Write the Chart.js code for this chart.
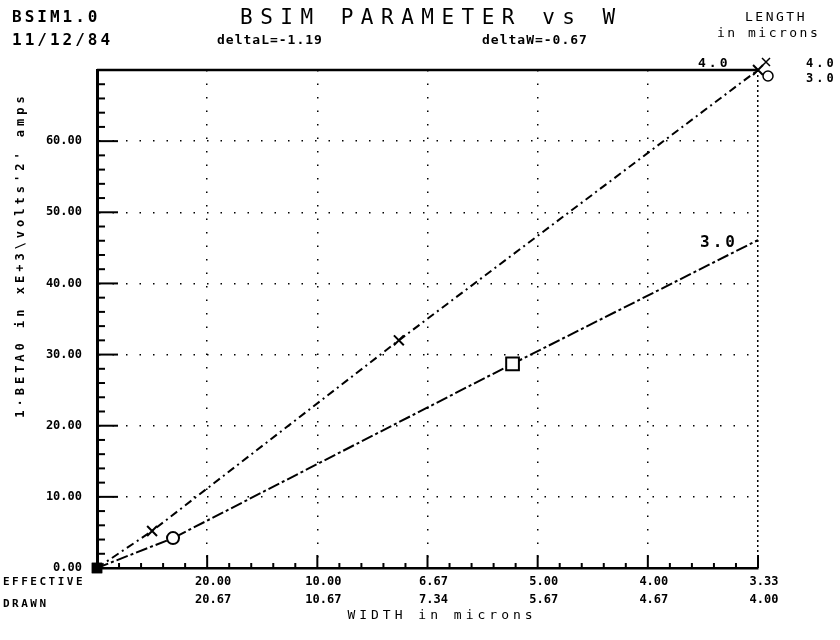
<!DOCTYPE html>
<html lang="en">
<head>
  <meta charset="UTF-8">
  <title>BSIM PARAMETER vs W</title>
  <script src="https://cdn.jsdelivr.net/npm/chart.js"></script>
  <style>
    body { margin: 0; background: #fff; }
    #wrap { width: 840px; height: 640px; }
  </style>
</head>
<body>
  <div id="wrap"><canvas id="beta" width="840" height="640"></canvas></div>

  <script>
    // x axis is 1/W (effective), labels show effective and drawn width
    const tickInvW = [0.05, 0.10, 0.15, 0.20, 0.25, 0.30];
    const effLabels = ['20.00', '10.00', '6.67', '5.00', '4.00', '3.33'];
    const drawnLabels = ['20.67', '10.67', '7.34', '5.67', '4.67', '4.00'];
    const yLabels = ['0.00', '10.00', '20.00', '30.00', '40.00', '50.00', '60.00'];

    // L = 4.0 um
    const invW40 = [0, 0.025, 0.137, 0.30];
    const beta40 = [0, 5.2, 32.0, 70.0];
    // L = 3.0 um
    const invW30 = [0, 0.0345, 0.1886, 0.30];
    const beta30 = [0, 4.2, 28.7, 46.1];

    const MONO = '"DejaVu Sans Mono", monospace';

    function toPoints(xs, ys) {
      return xs.map((x, i) => ({ x: x, y: ys[i] }));
    }

    function isMajorX(v) {
      const k = Math.round(v * 100);
      return k > 0 && k % 5 === 0;
    }

    function txt(ctx, s, x, y, font, spacing) {
      ctx.font = font;
      ctx.letterSpacing = (spacing || 0) + 'px';
      ctx.fillText(s, x, y);
      ctx.letterSpacing = '0px';
    }

    const decor = {
      id: 'decor',
      afterDraw(chart) {
        const ctx = chart.ctx;
        const area = chart.chartArea;
        const xs = chart.scales.x;
        const ys = chart.scales.y;
        ctx.save();
        ctx.strokeStyle = '#000';
        ctx.fillStyle = '#000';

        // solid frame line on top
        ctx.lineWidth = 2.5;
        ctx.beginPath();
        ctx.moveTo(area.left, area.top);
        ctx.lineTo(area.right, area.top);
        ctx.stroke();

        // inward tick marks
        ctx.lineWidth = 2;
        for (let i = 0; i <= 30; i++) {
          const px = xs.getPixelForValue(i / 100);
          const len = i % 5 === 0 ? 13 : 5;
          ctx.beginPath();
          ctx.moveTo(px, area.bottom);
          ctx.lineTo(px, area.bottom - len);
          ctx.stroke();
        }
        for (let v = 0; v <= 70; v += 2) {
          const py = ys.getPixelForValue(v);
          const len = v % 10 === 0 ? 21 : 8;
          ctx.beginPath();
          ctx.moveTo(area.left, py);
          ctx.lineTo(area.left + len, py);
          ctx.stroke();
        }

        // header
        ctx.textBaseline = 'alphabetic';
        ctx.textAlign = 'left';
        txt(ctx, 'BSIM1.0', 12, 22, 'bold 16px ' + MONO, 3);
        txt(ctx, '11/12/84', 12, 45, 'bold 16px ' + MONO, 3);
        txt(ctx, 'BSIM PARAMETER vs W', 240, 24, '21px ' + MONO, 7.5);
        txt(ctx, 'deltaL=-1.19', 217, 44, 'bold 13px ' + MONO, 1);
        txt(ctx, 'deltaW=-0.67', 482, 44, 'bold 13px ' + MONO, 1);
        txt(ctx, 'LENGTH', 745, 21, '13px ' + MONO, 2.5);
        txt(ctx, 'in microns', 717, 37, '13px ' + MONO, 2.5);

        // legend (right side, partly cut off)
        ctx.lineWidth = 1.5;
        ctx.beginPath();
        ctx.moveTo(762, 58); ctx.lineTo(770, 66);
        ctx.moveTo(770, 58); ctx.lineTo(762, 66);
        ctx.stroke();
        ctx.beginPath();
        ctx.arc(768, 76, 5, 0, Math.PI * 2);
        ctx.stroke();
        txt(ctx, '4.0', 806, 67, 'bold 12px ' + MONO, 3);
        txt(ctx, '3.0', 806, 82, 'bold 12px ' + MONO, 3);

        // curve labels
        txt(ctx, '4.0', 698, 67, 'bold 13px ' + MONO, 3);
        txt(ctx, '3.0', 700, 247, 'bold 16px ' + MONO, 3);

        // row headers for the x tick labels
        ctx.textBaseline = 'middle';
        txt(ctx, 'EFFECTIVE', 3, 582, 'bold 11px ' + MONO, 2.5);
        txt(ctx, 'DRAWN', 3, 604, 'bold 11px ' + MONO, 2.5);

        // axis titles
        ctx.textAlign = 'center';
        txt(ctx, 'WIDTH in microns', 442, 616, '13px ' + MONO, 4);
        ctx.translate(21, 255);
        ctx.rotate(-Math.PI / 2);
        txt(ctx, "1\u00b7BETA0 in xE+3\\volts'2' amps", 0, 0, 'bold 12px ' + MONO, 4);
        ctx.restore();
      }
    };

    new Chart(document.getElementById('beta'), {
      type: 'scatter',
      data: {
        datasets: [
          {
            label: '4.0',
            data: toPoints(invW40, beta40),
            showLine: true,
            borderColor: '#000',
            borderWidth: 2,
            borderDash: [8, 4, 2, 4],
            pointStyle: ['rect', 'crossRot', 'crossRot', 'crossRot'],
            pointRadius: [6, 7, 7, 7],
            pointBorderWidth: 2,
            pointBorderColor: '#000',
            pointBackgroundColor: ['#000', '#fff', '#fff', '#fff'],
            clip: false
          },
          {
            label: '3.0',
            data: toPoints(invW30, beta30),
            showLine: true,
            borderColor: '#000',
            borderWidth: 2,
            borderDash: [12, 3, 3, 3],
            pointStyle: ['rect', 'circle', 'rect', 'circle'],
            pointRadius: [6, 6, 9, 0],
            pointBorderWidth: 2,
            pointBorderColor: '#000',
            pointBackgroundColor: ['#000', '#fff', '#fff', '#fff'],
            clip: false
          }
        ]
      },
      options: {
        responsive: false,
        animation: false,
        devicePixelRatio: 1,
        layout: { padding: { top: 70, right: 82, left: 0, bottom: 0 } },
        plugins: {
          legend: { display: false },
          tooltip: { enabled: false }
        },
        scales: {
          x: {
            type: 'linear',
            min: 0,
            max: 0.3,
            afterFit: s => { s.height = 72; },
            ticks: {
              stepSize: 0.01,
              autoSkip: false,
              maxRotation: 0,
              labelOffset: 6,
              padding: 5,
              color: '#000',
              font: { family: MONO, size: 12, weight: 'bold', lineHeight: 1.5 },
              callback: v => {
                const i = tickInvW.findIndex(t => Math.abs(t - v) < 1e-6);
                return i < 0 ? '' : [effLabels[i], drawnLabels[i]];
              }
            },
            grid: {
              drawTicks: false,
              lineWidth: 1.5,
              color: c => (c.tick && isMajorX(c.tick.value)) ? '#000' : 'rgba(0,0,0,0)'
            },
            border: {
              display: true,
              width: 2.5,
              color: '#000',
              dash: c => (c.tick && Math.round(c.tick.value * 100) === 30) ? [2, 3] : [1.5, 12]
            }
          },
          y: {
            min: 0,
            max: 70,
            afterFit: s => { s.width = 97; },
            ticks: {
              stepSize: 2,
              autoSkip: false,
              padding: 15,
              color: '#000',
              font: { family: MONO, size: 12, weight: 'bold' },
              callback: v => (v % 10 === 0 && v / 10 < yLabels.length) ? yLabels[v / 10] : ''
            },
            grid: {
              drawTicks: false,
              lineWidth: 1.5,
              color: c => (c.tick && c.tick.value > 0 && c.tick.value < 70 && c.tick.value % 10 === 0) ? '#000' : 'rgba(0,0,0,0)'
            },
            border: {
              display: true,
              width: 3,
              color: '#000',
              dash: [1.5, 12]
            }
          }
        }
      },
      plugins: [decor]
    });
  </script>
</body>
</html>
